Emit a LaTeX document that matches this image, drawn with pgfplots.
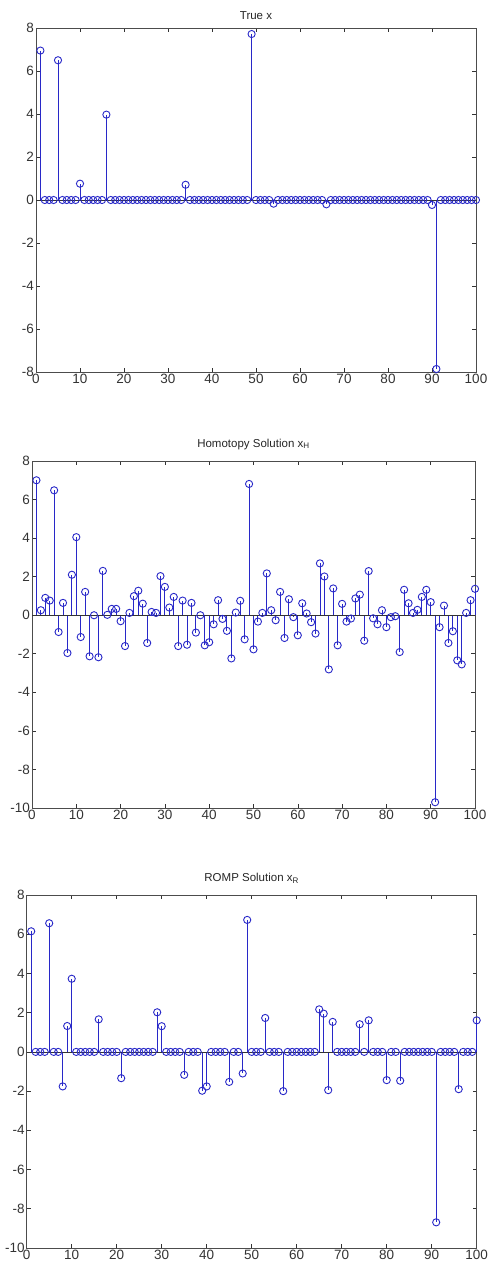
\documentclass[border=0pt]{standalone}
\usepackage{pgfplots}
\usepackage{pgfplotstable}
\pgfplotsset{compat=1.18}
\usepackage{fontspec}
\setmainfont{Liberation Sans}
\definecolor{stemblue}{RGB}{40,40,200}

\pgfplotstableread{
x y
1 6.95
2 0
3 0
4 0
5 6.50
6 0
7 0
8 0
9 0
10 0.76
11 0
12 0
13 0
14 0
15 0
16 3.97
17 0
18 0
19 0
20 0
21 0
22 0
23 0
24 0
25 0
26 0
27 0
28 0
29 0
30 0
31 0
32 0
33 0
34 0.71
35 0
36 0
37 0
38 0
39 0
40 0
41 0
42 0
43 0
44 0
45 0
46 0
47 0
48 0
49 7.72
50 0
51 0
52 0
53 0
54 -0.17
55 0
56 0
57 0
58 0
59 0
60 0
61 0
62 0
63 0
64 0
65 0
66 -0.20
67 0
68 0
69 0
70 0
71 0
72 0
73 0
74 0
75 0
76 0
77 0
78 0
79 0
80 0
81 0
82 0
83 0
84 0
85 0
86 0
87 0
88 0
89 0
90 -0.23
91 -7.86
92 0
93 0
94 0
95 0
96 0
97 0
98 0
99 0
100 0
}\truex

\pgfplotstableread{
x y
1 7.00
2 0.26
3 0.90
4 0.76
5 6.48
6 -0.87
7 0.64
8 -1.96
9 2.10
10 4.05
11 -1.13
12 1.21
13 -2.13
14 0.00
15 -2.18
16 2.30
17 0.02
18 0.33
19 0.33
20 -0.31
21 -1.60
22 0.12
23 0.99
24 1.27
25 0.60
26 -1.44
27 0.17
28 0.12
29 2.03
30 1.47
31 0.40
32 0.95
33 -1.60
34 0.76
35 -1.53
36 0.64
37 -0.90
38 0.00
39 -1.56
40 -1.40
41 -0.47
42 0.78
43 -0.19
44 -0.81
45 -2.24
46 0.14
47 0.75
48 -1.25
49 6.81
50 -1.77
51 -0.33
52 0.12
53 2.17
54 0.26
55 -0.26
56 1.21
57 -1.18
58 0.83
59 -0.10
60 -1.04
61 0.62
62 0.09
63 -0.36
64 -0.95
65 2.69
66 2.01
67 -2.81
68 1.39
69 -1.56
70 0.59
71 -0.33
72 -0.17
73 0.87
74 1.07
75 -1.32
76 2.29
77 -0.16
78 -0.47
79 0.26
80 -0.62
81 -0.10
82 -0.05
83 -1.91
84 1.32
85 0.62
86 0.12
87 0.28
88 0.95
89 1.32
90 0.68
91 -9.70
92 -0.62
93 0.50
94 -1.44
95 -0.83
96 -2.34
97 -2.55
98 0.12
99 0.78
100 1.37
}\homotopy

\pgfplotstableread{
x y
1 6.15
2 0
3 0
4 0
5 6.56
6 0
7 0
8 -1.76
9 1.32
10 3.73
11 0
12 0
13 0
14 0
15 0
16 1.66
17 0
18 0
19 0
20 0
21 -1.34
22 0
23 0
24 0
25 0
26 0
27 0
28 0
29 2.02
30 1.31
31 0
32 0
33 0
34 0
35 -1.17
36 0
37 0
38 0
39 -1.98
40 -1.76
41 0
42 0
43 0
44 0
45 -1.53
46 0
47 0
48 -1.10
49 6.73
50 0
51 0
52 0
53 1.73
54 0
55 0
56 0
57 -2.00
58 0
59 0
60 0
61 0
62 0
63 0
64 0
65 2.17
66 1.95
67 -1.95
68 1.53
69 0
70 0
71 0
72 0
73 0
74 1.41
75 0
76 1.61
77 0
78 0
79 0
80 -1.44
81 0
82 0
83 -1.47
84 0
85 0
86 0
87 0
88 0
89 0
90 0
91 -8.69
92 0
93 0
94 0
95 0
96 -1.90
97 0
98 0
99 0
100 1.61
}\romp

\pgfplotsset{
  mlab/.style={
    scale only axis,
    anchor=south west,
    xmin=0, xmax=100,
    xtick={0,10,...,100},
    tick align=inside,
    tick pos=both,
    major tick length=4pt,
    tick style={black!80, line width=0.6pt},
    axis line style={black!70, line width=0.9pt},
    ticklabel style={font=\fontsize{13.5}{14}\selectfont, black!80},
    /pgf/number format/assume math mode=true,
    title style={font=\fontsize{11.5}{12}\selectfont, black!85, yshift=2pt},
    xticklabel style={yshift=1.5pt},
    yticklabel style={xshift=1.5pt},
    clip=false,
  },
  stemstyle/.style={ycomb, draw=stemblue, line width=0.9pt, mark=o, mark size=3.6pt, mark options={draw=stemblue, line width=0.9pt}},
}

\begin{document}
\begin{tikzpicture}
\useasboundingbox (0pt,0pt) rectangle (489pt,-1267pt);

\begin{axis}[mlab, at={(36pt,-372pt)}, width=440pt, height=344pt,
  ymin=-8, ymax=8, ytick={-8,-6,...,8}, title={True x}, title style={yshift=-3pt}]
  \addplot[stemstyle] table[x=x,y=y] {\truex};
  \addplot[black!80, line width=0.8pt, forget plot] coordinates {(0,0) (100,0)};
\end{axis}

\begin{axis}[mlab, at={(32pt,-808pt)}, width=443pt, height=347pt,
  ymin=-10, ymax=8, ytick={-10,-8,...,8}, title={Homotopy Solution x\textsubscript{H}}]
  \addplot[stemstyle] table[x=x,y=y] {\homotopy};
  \addplot[black!80, line width=0.8pt, forget plot] coordinates {(0,0) (100,0)};
\end{axis}

\begin{axis}[mlab, at={(26.7pt,-1248pt)}, width=450pt, height=353pt,
  ymin=-10, ymax=8, ytick={-10,-8,...,8}, title={ROMP Solution x\textsubscript{R}}]
  \addplot[stemstyle] table[x=x,y=y] {\romp};
  \addplot[black!80, line width=0.8pt, forget plot] coordinates {(0,0) (100,0)};
\end{axis}
\end{tikzpicture}
\end{document}
